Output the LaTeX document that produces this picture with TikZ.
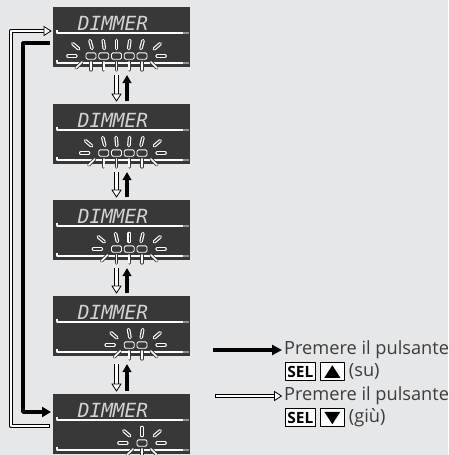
\documentclass[tikz,border=0pt]{standalone}
\usepackage{fontspec}
\setmainfont{Open Sans}
\newfontfamily\lcdfont{DejaVu Sans Mono}
\usetikzlibrary{positioning,calc,arrows.meta}
\definecolor{nen}{HTML}{E6E7E8}
\definecolor{manhinh}{HTML}{383838}
\definecolor{chuxam}{HTML}{3C3C3C}
\tikzset{
  panel/.style={fill=manhinh, minimum width=137pt, minimum height=60pt, inner sep=0pt, outer sep=0pt},
  lcd/.style={font=\lcdfont\itshape\fontsize{19.5}{20}\selectfont, text=white!78!manhinh, inner sep=0pt},
  vach/.style={white, line width=1.2pt},
  oled/.style={draw=white, fill=manhinh, line width=0.9pt, rounded corners=1.5pt},
  tiarong/.style={draw=white, line width=3.6pt, line cap=round, postaction={draw=manhinh, line width=1.3pt}},
  tiaduoi/.style={draw=manhinh, line width=3.2pt, line cap=round, postaction={draw=white, line width=1.6pt}},
  rong/.style={draw=black, double=white, double distance=2.8pt, line width=0.8pt},
  den/.style={draw=black, line width=3.6pt},
  phim/.style={draw=black, fill=white, line width=0.9pt, inner sep=2pt, minimum height=18pt, font=\bfseries\fontsize{15.5}{15.5}\selectfont},
  chu/.style={text=chuxam, font=\fontsize{18.2}{21}\selectfont, inner sep=0pt}
}
% đầu mũi tên rỗng: #1 đỉnh, #2 góc quay
\newcommand{\daurong}[2]{\draw[fill=white, line width=0.8pt, line join=miter, shift={#1}, rotate=#2] (0,0) -- (-7,-4.5) -- (-7,4.5) -- cycle;}
\begin{document}
\begin{tikzpicture}[x=1pt, y=-1pt, line join=round, >=stealth]
	\fill[nen] (0,0) rectangle (448,455);
	\useasboundingbox (0,0) rectangle (448,455);
	% năm màn hình
	\foreach \i/\tren/\so in {1/7/5, 2/104/4, 3/200/3, 4/296/2, 5/394/1} {
		\node[panel, anchor=north west] (p\i) at (53,\tren) {};
		\node[lcd] (t\i) at ($(p\i.north west)+(60,16)$) {DIMMER};
		\foreach \h in {26,56} {
			\draw[vach] ($(p\i.north west)+(4,\h-3.5)$) -- ++(0,3.5) -- ($(p\i.north east)+(-7,\h)$);
			\draw[white!45!manhinh, line width=1.2pt] ($(p\i.north east)+(-7,\h)$) -- ($(p\i.north east)+(-1,\h)$);
		}
		\pgfmathsetmacro\cy{\tren+49}
		\pgfmathsetmacro\cx{142-(\so-1)*6.375}
		\pgfmathsetmacro\hw{(\so-1)*6.375+5}
		\pgfmathsetmacro\trai{\cx-\hw}
		\pgfmathsetmacro\phai{\cx+\hw}
		% tia hai bên
		\draw[tiarong] (\trai-13.2,\cy-12.2) -- (\trai-7.3,\cy-7.2);
		\draw[tiarong] (\phai+13.2,\cy-12.2) -- (\phai+7.3,\cy-7.2);
		\draw[tiarong] (\trai-18,\cy) -- (\trai-10.2,\cy);
		\draw[tiarong] (\phai+10.2,\cy) -- (\phai+18,\cy);
		\draw[tiaduoi] (\trai-4,\cy+6) -- (\trai-10,\cy+12);
		\draw[tiaduoi] (\phai+4,\cy+6) -- (\phai+10,\cy+12);
		\foreach \k in {1,...,\so} {
			\pgfmathsetmacro\xk{142-(\so-\k)*12.75}
			\pgfmathsetmacro\lech{(\xk-\cx)/\hw*18}
			\pgfmathsetmacro\ddx{4*sin(\lech)}
			\pgfmathsetmacro\ddy{4*cos(\lech)}
			\draw[tiarong] (\xk+\ddx,\cy-11.5-\ddy) -- (\xk-\ddx,\cy-11.5+\ddy);
			\draw[tiaduoi] (\xk,\cy+6) -- (\xk,\cy+14);
			\draw[oled] (\xk-5,\cy-3.2) rectangle (\xk+5,\cy+3.2);
		}
	}
	% mũi tên giữa các màn hình
	\foreach \i/\j in {1/2, 2/3, 3/4, 4/5} {
		\coordinate (xa\i) at ($(p\i.south)+(-5,8)$);
		\coordinate (xb\i) at ($(p\j.north)+(-5,-3)$);
		\draw[rong] (xa\i) -- ($(xb\i)+(0,-6.5)$);
		\daurong{(xb\i)}{-90}
		\draw[den, line width=3.4pt, -{Triangle[length=8pt,width=8.5pt]}] ($(p\j.north)+(5.5,-3)$) -- ($(p\i.south)+(5.5,8)$);
	}
	% vòng đen: 1 -> 5
	\coordinate (bd) at ($(p1.west)+(-3,6)$);
	\coordinate (bc) at ($(p5.west)+(-2,-12)$);
	\draw[den, -{Triangle[length=9pt,width=10pt]}] (bd) -- ++(-27,0) |- (bc);
	% vòng rỗng: 5 -> 1
	\coordinate (rd) at ($(p5.west)+(-4,2)$);
	\coordinate (rc) at ($(p1.west)+(-2,-6)$);
	\draw[rong] (rd) -- ++(-38,0) |- ($(rc)+(-6.5,0)$);
	\draw[line width=0.8pt] ($(rd)+(0,-2.2)$) -- ($(rd)+(0,2.2)$);
	\daurong{(rc)}{0}
	% chú thích
	\node[chu, anchor=west] (lenA) at (284,350) {Premere il pulsante};
	\coordinate (denA) at (213,350);
	\draw[den, line width=3.2pt, -{Triangle[length=10pt,width=10pt]}] (denA) -- ($(lenA.west)+(-2,0)$);
	\node[phim, anchor=north west] (selA) at ($(lenA.south west)+(1,3)$) {SEL};
	\node[phim, minimum width=24pt, right=4pt of selA] (tamA) {};
	\fill ($(tamA.center)+(0,-6.5)$) -- ($(tamA.center)+(8,6)$) -- ($(tamA.center)+(-8,6)$) -- cycle;
	\node[chu, right=4pt of tamA] (suA) {(su)};
	\node[chu, anchor=west] (lenB) at (284,396) {Premere il pulsante};
	\coordinate (rongB) at (215,396);
	\draw[rong] (rongB) -- ($(lenB.west)+(-9,0)$);
	\draw[line width=0.8pt] ($(rongB)+(0,-2.2)$) -- ($(rongB)+(0,2.2)$);
	\daurong{($(lenB.west)+(-2.5,0)$)}{0}
	\node[phim, anchor=north west] (selB) at ($(lenB.south west)+(1,3)$) {SEL};
	\node[phim, minimum width=24pt, right=4pt of selB] (tamB) {};
	\fill ($(tamB.center)+(0,6.5)$) -- ($(tamB.center)+(8,-6)$) -- ($(tamB.center)+(-8,-6)$) -- cycle;
	\node[chu, right=4pt of tamB] (giuB) {(giù)};
\end{tikzpicture}
\end{document}
